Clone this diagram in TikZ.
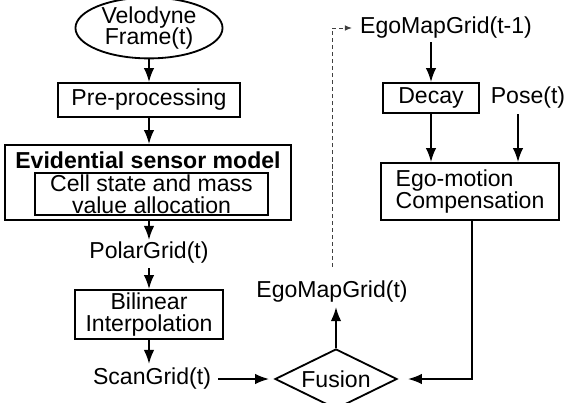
\documentclass[tikz,border=0pt]{standalone}
\usepackage{fontspec}
\setmainfont{Liberation Sans}
\usetikzlibrary{positioning,arrows.meta,shapes.geometric,calc}

\begin{document}
\begin{tikzpicture}[
  x=0.025cm,y=-0.025cm,
  every node/.style={font=\fontsize{16.4}{15.3}\selectfont,inner sep=0pt},
  box/.style={draw,line width=1.3pt},
  arr/.style={-{Latex[length=10pt,width=7.5pt]},line width=1.3pt},
  feedback/.style={-{Latex[length=5pt,width=4pt]},dash pattern=on 3pt off 2pt,line width=0.6pt,black!75}
]
  % Rahmen
  \useasboundingbox (0,0) rectangle (566,402);

  % linke Spalte
  \node[box,ellipse,align=center,minimum width=3.675cm,minimum height=1.4cm] (velo) at (149,28)
    {Velodyne\\Frame(t)};
  \node[box,minimum width=4.55cm,minimum height=0.85cm] (pre) at (149,100)
    {Pre-processing};
  \node[box,minimum width=7.15cm,minimum height=1.875cm] (esm) at (148,182.5) {};
  \node[font=\fontsize{16.4}{15.3}\selectfont\bfseries] (esmtitle) at (148,160)
    {Evidential sensor model};
  \node[box,align=center,minimum width=5.825cm,minimum height=1.05cm] (cell) at (151.5,194)
    {Cell state and mass\\value allocation};
  \node (polar) at (149,253) {PolarGrid(t)};
  \node[box,align=center,minimum width=3.7cm,minimum height=1.225cm] (bil) at (149,314.5)
    {Bilinear\\Interpolation};
  \node (scan) at (152,379) {ScanGrid(t)};

  % Fusion
  \node[box,diamond,aspect=2,minimum width=3.05cm,minimum height=1.5cm] (fusion) at (336,379)
    {Fusion};
  \node (egot) at (332,292) {EgoMapGrid(t)};

  % rechte Spalte
  \node (egot1) at (446,28) {EgoMapGrid(t-1)};
  \node[box,minimum width=2.4cm,minimum height=0.75cm] (decay) at (431,98) {Decay};
  \node (pose) at (528,98) {Pose(t)};
  \node[box,minimum width=4.45cm,minimum height=1.425cm] (ego) at (470,191.5)
    {\renewcommand{\arraystretch}{0.72}%
     \begin{tabular}{@{}l@{}}Ego-motion\\Compensation\end{tabular}};

  % Pfeile links
  \draw[arr] (velo) -- (pre);
  \draw[arr] (pre.south) -- (pre.south |- esm.north);
  \draw[arr,shorten >=0.05cm] (polar.north |- esm.south) -- (polar.north);
  \draw[arr,shorten <=0.1cm] (polar.south) -- (polar.south |- bil.north);
  \draw[arr,shorten >=0.1cm] (bil.south) -- (bil.south |- scan.north);
  \draw[arr,shorten <=0.175cm,shorten >=0.125cm] (scan) -- (fusion);

  % Pfeile um Fusion
  \draw[arr,shorten >=0.1cm] (fusion.north) -- (fusion.north |- egot.south);
  \draw[feedback,shorten <=0.35cm,shorten >=0.2cm] (egot.north) |- (egot1.west);

  % Pfeile rechts
  \draw[arr,shorten <=0.075cm] (egot1.south -| decay.north) -- (decay.north);
  \draw[arr] (decay.south) -- (decay.south |- ego.north);
  \draw[arr,shorten <=0.125cm] ([xshift=-0.25cm]pose.south)
    -- ([xshift=-0.25cm]pose.south |- ego.north);
  \draw[arr,shorten >=0.25cm] ([xshift=0.05cm]ego.south) |- (fusion.east);
\end{tikzpicture}
\end{document}
